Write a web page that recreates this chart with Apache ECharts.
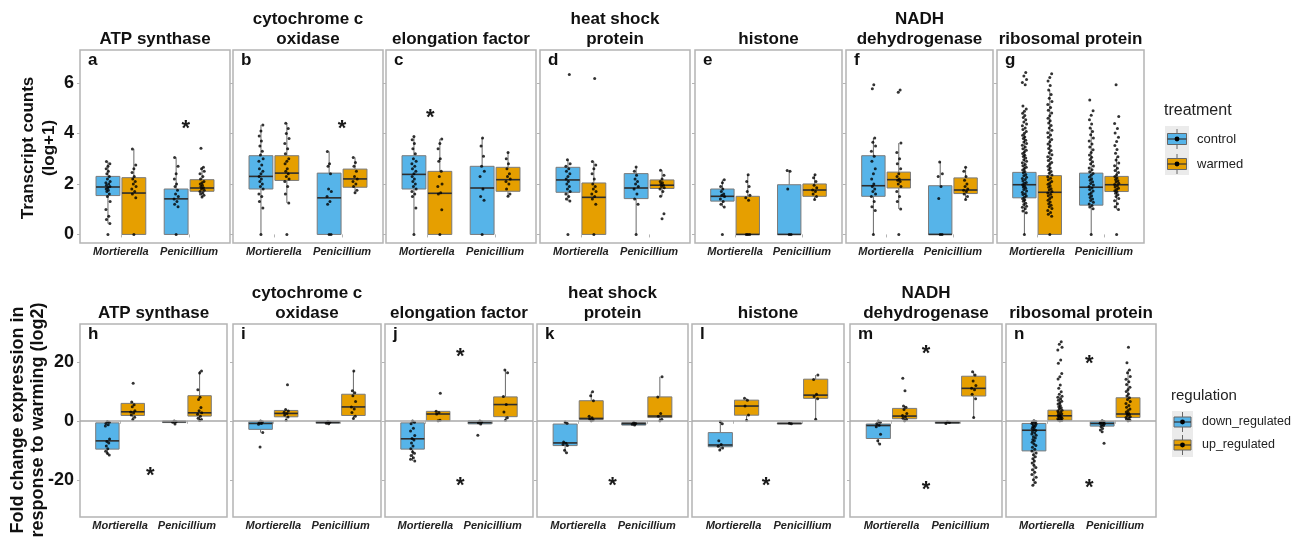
<!DOCTYPE html>
<html><head><meta charset="utf-8">
<script src="https://cdn.jsdelivr.net/npm/echarts@6/dist/echarts.min.js"></script>
<style>html,body{margin:0;padding:0;background:#fff}#c{width:1301px;height:537px}</style>
</head><body><div id="c"></div>
<script>
// ---------- labels ----------
const genera = ['Mortierella', 'Penicillium'];
const treatments = ['control', 'warmed'];
const regulations = ['down_regulated', 'up_regulated'];
const geneTitles = ['ATP synthase', 'cytochrome c\noxidase', 'elongation factor', 'heat shock\nprotein', 'histone', 'NADH\ndehydrogenase', 'ribosomal protein'];
const topLetters = ['a', 'b', 'c', 'd', 'e', 'f', 'g'];
const bottomLetters = ['h', 'i', 'j', 'k', 'l', 'm', 'n'];
const topTicks = [0, 2, 4, 6];
const bottomTicks = [-20, 0, 20];
const topRange = [-0.34, 7.31];
const bottomRange = [-32.6, 32.8];

// ---------- box stats [lower whisker, Q1, median, Q3, upper whisker]
// order: Mortierella-control/down, Mortierella-warmed/up, Penicillium-control/down, Penicillium-warmed/up
const boxA = [[0.43, 1.54, 1.88, 2.30, 2.89], [0, 0, 1.64, 2.25, 3.39], [0, 0, 1.41, 1.80, 3.05], [1.48, 1.71, 1.84, 2.17, 2.66]];
const boxB = [[0, 1.80, 2.30, 3.12, 4.34], [1.25, 2.14, 2.43, 3.12, 4.41], [0, 0, 1.45, 2.43, 3.29], [1.65, 1.87, 2.20, 2.59, 3.05]];
const boxC = [[0, 1.80, 2.38, 3.12, 3.88], [0, 0, 1.63, 2.50, 3.78], [0, 0, 1.84, 2.70, 3.82], [1.51, 1.71, 2.17, 2.66, 3.25]];
const boxD = [[1.32, 1.67, 2.16, 2.66, 2.96], [0, 0, 1.47, 2.04, 2.89], [0, 1.42, 1.84, 2.41, 2.67], [1.51, 1.82, 1.95, 2.16, 2.54]];
const boxE = [[1.09, 1.32, 1.51, 1.80, 2.17], [0, 0, 0, 1.51, 2.37], [0, 0, 0, 1.97, 2.53], [1.38, 1.51, 1.76, 2.00, 2.37]];
const boxF = [[0, 1.51, 1.93, 3.12, 3.82], [1.01, 1.84, 2.17, 2.47, 3.62], [0, 0, 0, 1.93, 2.87], [1.38, 1.62, 1.76, 2.24, 2.66]];
const boxG = [[0, 1.45, 1.97, 2.46, 3.98], [0, 0, 1.67, 2.33, 5.72], [0, 1.16, 1.87, 2.43, 4.22], [0.99, 1.70, 1.97, 2.30, 3.08]];

const boxH = [[-11.6, -9.6, -6.8, -0.7, -0.2], [0.45, 1.8, 3.05, 5.9, 6.4], [-1.1, -0.6, -0.3, -0.1, -0.1], [0.1, 1.6, 2.7, 8.5, 16.9]];
const boxI = [[-4.0, -2.9, -0.9, -0.3, -0.1], [0.2, 1.35, 2.5, 3.5, 3.8], [-1.0, -0.85, -0.5, -0.15, -0.1], [0.8, 1.8, 4.7, 9.0, 16.9]];
const boxJ = [[-13.6, -9.6, -6.1, -0.7, -0.1], [0, 0, 2.3, 3.2, 3.2], [-1.1, -1.05, -0.6, -0.05, -0.05], [0.2, 1.4, 5.5, 8.1, 17.2]];
const boxK = [[-10.8, -8.4, -7.5, -1.1, -0.4], [0, 0.45, 0.8, 6.8, 9.8], [-1.5, -1.45, -1.0, -0.6, -0.6], [0, 1.1, 1.6, 8.1, 14.9]];
const boxL = [[-9.9, -8.8, -8.2, -4.0, -0.3], [0.2, 1.9, 5.0, 7.0, 7.6], [-1.1, -1.05, -0.9, -0.75, -0.7], [0.5, 7.6, 8.7, 14.1, 15.5]];
const boxM = [[-7.9, -6.0, -1.6, -1.1, -0.1], [0, 0.7, 1.6, 4.2, 5.0], [-0.9, -0.85, -0.6, -0.35, -0.3], [1.1, 8.4, 11.0, 15.1, 16.6]];
const boxN = [[-21.8, -10.2, -3.2, -0.9, 0], [0, 0.2, 1.7, 3.6, 8.3], [-2.0, -1.8, -0.9, -0.3, 0], [0, 1.1, 2.3, 7.8, 17.2]];

// ---------- individual observations (same order)
const ptsA = [
  [0, 0.43, 0.59, 0.72, 0.99, 1.3, 1.5, 1.6, 1.7, 1.75, 1.8, 1.85, 1.9, 1.95, 2.0, 2.05, 2.1, 2.2, 2.3, 2.4, 2.5, 2.6, 2.7, 2.8, 2.89],
  [0, 1.45, 1.6, 1.7, 1.8, 1.9, 2.0, 2.1, 2.2, 2.3, 2.45, 2.6, 2.75, 3.39],
  [0, 1.1, 1.2, 1.3, 1.4, 1.5, 1.6, 1.75, 1.9, 2.0, 2.2, 2.4, 2.7, 3.05],
  [1.48, 1.55, 1.6, 1.65, 1.7, 1.75, 1.8, 1.85, 1.9, 1.95, 2.0, 2.05, 2.1, 2.2, 2.3, 2.4, 2.5, 2.6, 2.66, 3.42]];
const ptsB = [
  [0, 1.05, 1.3, 1.5, 1.6, 1.8, 1.9, 2.0, 2.1, 2.2, 2.3, 2.4, 2.5, 2.6, 2.75, 2.9, 3.0, 3.15, 3.3, 3.5, 3.7, 3.9, 4.1, 4.34],
  [0, 1.25, 1.6, 1.9, 2.1, 2.2, 2.3, 2.4, 2.5, 2.6, 2.8, 2.9, 3.0, 3.2, 3.4, 3.6, 3.8, 4.0, 4.2, 4.41],
  [0, 0, 1.2, 1.3, 1.5, 1.7, 1.8, 2.4, 2.7, 2.8, 3.29],
  [1.65, 1.75, 1.9, 2.0, 2.1, 2.2, 2.3, 2.5, 2.7, 2.85, 3.05]];
const ptsC = [
  [0, 1.05, 1.5, 1.6, 1.7, 1.8, 1.9, 2.0, 2.1, 2.2, 2.3, 2.4, 2.5, 2.6, 2.7, 2.8, 2.9, 3.0, 3.2, 3.4, 3.6, 3.75, 3.88],
  [0, 0.98, 1.6, 1.65, 1.9, 2.0, 2.3, 2.5, 2.9, 3.0, 3.4, 3.6, 3.78],
  [0, 1.35, 1.5, 1.8, 2.3, 2.5, 2.7, 3.1, 3.5, 3.82],
  [1.51, 1.6, 1.8, 2.0, 2.1, 2.2, 2.3, 2.4, 2.6, 2.8, 3.0, 3.25]];
const ptsD = [
  [0, 1.32, 1.4, 1.5, 1.6, 1.7, 1.8, 1.9, 2.0, 2.1, 2.2, 2.3, 2.4, 2.5, 2.6, 2.7, 2.8, 2.96, 6.34],
  [0, 1.2, 1.4, 1.5, 1.6, 1.7, 1.8, 1.9, 2.0, 2.2, 2.4, 2.6, 2.75, 2.89, 6.18],
  [0, 1.2, 1.4, 1.6, 1.8, 1.9, 2.0, 2.1, 2.2, 2.35, 2.5, 2.67],
  [0.62, 0.82, 1.51, 1.7, 1.8, 1.85, 1.9, 1.95, 2.0, 2.05, 2.1, 2.2, 2.35, 2.54]];
const ptsE = [
  [0, 1.09, 1.2, 1.3, 1.4, 1.5, 1.55, 1.6, 1.7, 1.8, 1.9, 2.05, 2.17],
  [0, 0, 0, 1.35, 1.45, 1.55, 1.7, 1.9, 2.1, 2.37],
  [0, 0, 1.8, 2.5, 2.53],
  [1.38, 1.5, 1.6, 1.7, 1.76, 1.85, 1.95, 2.1, 2.25, 2.37]];
const ptsF = [
  [0, 0.95, 1.1, 1.3, 1.5, 1.6, 1.7, 1.8, 1.9, 2.0, 2.2, 2.4, 2.6, 2.9, 3.1, 3.3, 3.5, 3.65, 3.82, 5.77, 5.93],
  [0, 1.01, 1.3, 1.5, 1.7, 1.9, 2.0, 2.1, 2.15, 2.2, 2.3, 2.4, 2.6, 2.8, 3.0, 3.25, 3.62, 5.64, 5.72],
  [0, 0, 1.42, 1.9, 2.3, 2.4, 2.87],
  [1.38, 1.5, 1.6, 1.7, 1.75, 1.8, 1.9, 2.0, 2.15, 2.3, 2.5, 2.66]];
const ptsG = [
  [0, 0.86, 0.93, 1.02, 1.08, 1.12, 1.19, 1.24, 1.31, 1.36, 1.41, 1.47, 1.52, 1.58, 1.61, 1.67, 1.72, 1.78, 1.83, 1.88, 1.91, 1.97, 2.03, 2.06, 2.12, 2.18, 2.22, 2.27, 2.33, 2.38, 2.44, 2.49, 2.55, 2.61, 2.66, 2.72, 2.77, 2.84, 2.9, 2.96, 3.03, 3.09, 3.14, 3.21, 3.27, 3.34, 3.4, 3.47, 3.53, 3.6, 3.66, 3.73, 3.8, 3.86, 3.93, 4.01, 4.08, 4.16, 4.22, 4.31, 4.38, 4.46, 4.55, 4.63, 4.71, 4.8, 4.88, 4.97, 5.09, 5.93, 6.02, 6.14, 6.28, 6.42],
  [0, 0.72, 0.8, 0.87, 0.95, 1.03, 1.1, 1.16, 1.22, 1.29, 1.35, 1.42, 1.48, 1.53, 1.59, 1.64, 1.7, 1.76, 1.81, 1.87, 1.93, 1.99, 2.04, 2.1, 2.17, 2.23, 2.29, 2.36, 2.42, 2.49, 2.56, 2.63, 2.7, 2.78, 2.85, 2.93, 3.01, 3.08, 3.16, 3.24, 3.33, 3.41, 3.5, 3.58, 3.67, 3.76, 3.85, 3.94, 4.03, 4.13, 4.22, 4.32, 4.42, 4.51, 4.6, 4.7, 4.81, 4.92, 5.03, 5.15, 5.27, 5.4, 5.55, 5.72, 5.9, 6.08, 6.22, 6.37],
  [0, 1.02, 1.09, 1.15, 1.21, 1.28, 1.34, 1.4, 1.46, 1.53, 1.59, 1.65, 1.72, 1.78, 1.84, 1.9, 1.96, 2.02, 2.09, 2.15, 2.21, 2.28, 2.35, 2.41, 2.48, 2.56, 2.63, 2.71, 2.8, 2.88, 2.97, 3.06, 3.15, 3.25, 3.36, 3.47, 3.58, 3.7, 3.82, 3.95, 4.08, 4.22, 4.38, 4.55, 4.72, 4.9, 5.33],
  [0, 0.99, 1.1, 1.22, 1.33, 1.42, 1.5, 1.57, 1.63, 1.68, 1.73, 1.78, 1.83, 1.88, 1.93, 1.98, 2.03, 2.08, 2.13, 2.18, 2.24, 2.3, 2.37, 2.45, 2.53, 2.62, 2.72, 2.83, 2.95, 3.08, 3.22, 3.37, 3.52, 3.68, 3.85, 4.02, 4.2, 4.4, 4.67, 5.93]];

const ptsH = [
  [-0.2, -0.5, -0.9, -1.3, -1.8, -6.2, -7.0, -7.5, -8.5, -9.5, -10.3, -11.0, -11.6],
  [0.45, 1.2, 2.0, 2.6, 3.0, 3.4, 4.8, 5.4, 6.4, 12.7],
  [-0.1, -0.3, -0.5, -1.1],
  [0.1, 0.4, 0.9, 1.5, 2.2, 2.7, 3.4, 4.5, 7.2, 8.0, 10.5, 16.2, 16.9]];
const ptsI = [
  [-0.1, -0.3, -0.6, -0.9, -1.2, -4.0, -8.9],
  [0.2, 1.3, 2.0, 2.5, 2.9, 3.3, 3.8, 12.2],
  [-0.2, -0.5, -0.8, -1.0],
  [0.8, 1.5, 2.8, 4.0, 4.7, 6.5, 8.5, 9.5, 10.2, 16.9]];
const ptsJ = [
  [-0.1, -0.5, -1.0, -2.5, -3.5, -5.0, -6.0, -6.5, -7.5, -8.5, -9.5, -10.5, -11.0, -11.8, -12.5, -13.0, -13.6],
  [0.0, 0.2, 2.3, 2.8, 3.2, 9.3],
  [-0.1, -0.4, -0.7, -1.1, -4.9],
  [0.2, 1.0, 3.0, 5.5, 8.2, 16.3, 17.2]];
const ptsK = [
  [-0.4, -0.8, -7.2, -7.6, -8.0, -8.4, -10.0, -10.8],
  [0, 0.3, 0.6, 1.0, 1.5, 6.8, 8.5, 9.8],
  [-0.6, -0.9, -1.2, -1.4],
  [0, 0.5, 1.5, 2.5, 8.1, 14.9]];
const ptsL = [
  [-0.3, -1.0, -6.8, -8.0, -8.6, -9.2, -9.9],
  [0.2, 2.0, 5.0, 7.0, 7.6],
  [-0.8, -1.0],
  [0.5, 7.5, 8.2, 9.0, 14.0, 15.5]];
const ptsM = [
  [-0.1, -0.5, -1.0, -1.5, -2.0, -4.6, -6.8, -7.9],
  [0.0, 0.4, 0.9, 1.4, 1.8, 2.5, 3.8, 4.6, 5.0, 10.2, 14.4],
  [-0.3, -0.6, -0.9],
  [1.1, 7.5, 9.0, 10.5, 11.0, 12.0, 13.5, 15.5, 16.6]];
const ptsN = [
  [0, -0.2, -0.4, -0.6, -0.9, -1.1, -1.4, -1.7, -2.0, -2.3, -2.6, -3.0, -3.3, -3.7, -4.1, -4.5, -4.9, -5.4, -5.8, -6.3, -6.8, -7.3, -7.9, -8.4, -9.0, -9.6, -10.2, -10.9, -11.5, -12.2, -12.9, -13.6, -14.3, -15.1, -15.8, -16.6, -17.4, -18.2, -19.1, -20.0, -20.9, -21.8],
  [0, 0.1, 0.3, 0.5, 0.7, 0.9, 1.1, 1.3, 1.5, 1.7, 1.9, 2.1, 2.4, 2.7, 3.0, 3.3, 3.6, 4.0, 4.4, 4.8, 5.2, 5.7, 6.1, 6.6, 7.0, 7.5, 8.0, 8.3, 9.0, 9.8, 11.0, 12.1, 14.2, 14.9, 16.0, 19.5, 20.6, 24.0, 24.9, 25.9, 26.8],
  [0, -0.2, -0.4, -0.6, -0.8, -1.0, -1.3, -1.6, -2.0, -2.6, -3.1, -3.7, -7.6],
  [0, 0.2, 0.5, 0.8, 1.1, 1.4, 1.8, 2.1, 2.3, 2.6, 3.0, 3.5, 4.0, 4.6, 5.2, 5.9, 6.5, 7.2, 7.8, 8.4, 9.1, 9.9, 10.6, 11.4, 12.3, 13.2, 14.1, 15.0, 16.3, 17.2, 19.7, 24.9]];

// significance stars [x position on genus axis (1 = Mortierella, 2 = Penicillium), y value]
const starsTop = [[[1.95, 4.38]], [[2, 4.38]], [[1.05, 4.83]], [], [], [], []];
const starsBottom = [[[1.45, -16.9]], [], [[1.52, 23.4], [1.52, -20.5]], [[1.5, -20.5]], [[1.47, -20.5]], [[1.5, 24.4], [1.5, -21.7]], [[1.62, 21.0], [1.62, -20.9]]];

// ---------- layout / style (not data) ----------
const FONT = '"Liberation Sans", Arial, Helvetica, sans-serif';
const palette = ['#56B4E9', '#E69F00'];
const topX = [[80, 230], [233, 383], [386, 536], [540, 690], [695, 842], [846, 993], [997, 1144]];
const topY = [50, 243];
const botX = [[80, 227], [233, 381], [385, 533], [537, 688], [692, 844], [850, 1002], [1006, 1156]];
const botY = [324, 517];
const DODGE = 0.19, BOXW = 0.35;
const JIT = [0, 0.028, -0.022, 0.012, -0.03, 0.032, -0.008, 0.02, -0.016, 0.006, -0.026];

function renderBox(params, api) {
  const x = api.value(0);
  const lo = api.coord([x, api.value(1)]);
  const q1 = api.coord([x, api.value(2)]);
  const md = api.coord([x, api.value(3)]);
  const q3 = api.coord([x, api.value(4)]);
  const hi = api.coord([x, api.value(5)]);
  const w = api.size([BOXW, 0])[0];
  const cx = q1[0];
  const col = palette[api.value(6)];
  return {type: 'group', children: [
    {type: 'line', shape: {x1: cx, y1: hi[1], x2: cx, y2: q3[1]}, style: {stroke: '#6a6a6a', lineWidth: 1}},
    {type: 'line', shape: {x1: cx, y1: q1[1], x2: cx, y2: lo[1]}, style: {stroke: '#6a6a6a', lineWidth: 1}},
    {type: 'rect', shape: {x: cx - w / 2, y: q3[1], width: w, height: Math.max(q1[1] - q3[1], 0.8)}, style: {fill: col, stroke: '#7a7a7a', lineWidth: 1}},
    {type: 'line', shape: {x1: cx - w / 2, y1: md[1], x2: cx + w / 2, y2: md[1]}, style: {stroke: '#2e2e2e', lineWidth: 1.6}}
  ]};
}
function renderStar(params, api) {
  const p = api.coord([api.value(0), api.value(1)]);
  return {type: 'text', x: p[0], y: p[1] + 5, style: {text: '*', font: 'bold 22px ' + FONT, fill: '#1a1a1a', align: 'center', verticalAlign: 'middle'}};
}

const grids = [], xAxes = [], yAxes = [], series = [], graphics = [];
function addPanel(xr, yr, range, ticks, showLabels, boxes, pts, stars, zeroLine, letter, title) {
  const idx = grids.length;
  grids.push({left: xr[0], top: yr[0], width: xr[1] - xr[0], height: yr[1] - yr[0], show: true, borderColor: '#b4b4b4', borderWidth: 1.5, backgroundColor: '#ffffff'});
  xAxes.push({gridIndex: idx, type: 'value', min: 0.4, max: 2.6, axisLine: {show: false}, splitLine: {show: false},
    axisTick: {show: true, customValues: [1, 2], length: 3, lineStyle: {color: '#b4b4b4'}},
    axisLabel: {show: true, customValues: [1, 2], formatter: v => genera[Math.round(v) - 1], margin: 3,
      fontFamily: FONT, fontSize: 11, fontWeight: 'bold', fontStyle: 'italic', color: '#222'}});
  yAxes.push({gridIndex: idx, type: 'value', min: range[0], max: range[1], axisLine: {show: false}, splitLine: {show: false},
    axisTick: {show: true, customValues: ticks, length: 3, lineStyle: {color: '#b4b4b4'}},
    axisLabel: {show: showLabels, customValues: ticks, margin: 6, fontFamily: FONT, fontSize: 18, fontWeight: 'bold', color: '#111'}});
  const boxData = boxes.map((b, k) => [Math.floor(k / 2) + 1 + (k % 2 ? DODGE : -DODGE)].concat(b, [k % 2]));
  series.push({type: 'custom', xAxisIndex: idx, yAxisIndex: idx, renderItem: renderBox, data: boxData,
    encode: {x: 0, y: [1, 2, 3, 4, 5]}, z: 2, silent: true});
  const ptData = [];
  pts.forEach((list, k) => {
    const base = Math.floor(k / 2) + 1 + (k % 2 ? DODGE : -DODGE);
    list.forEach((v, j) => ptData.push([base + JIT[j % JIT.length], v]));
  });
  const sc = {type: 'scatter', xAxisIndex: idx, yAxisIndex: idx, data: ptData, symbol: 'circle', symbolSize: 3,
    itemStyle: {color: '#000'}, z: 3, silent: true};
  if (zeroLine) sc.markLine = {silent: true, symbol: 'none', label: {show: false}, animation: false,
    lineStyle: {color: '#a8a8a8', width: 1.6, type: 'solid'}, data: [{yAxis: 0}]};
  series.push(sc);
  if (stars.length) series.push({type: 'custom', xAxisIndex: idx, yAxisIndex: idx, renderItem: renderStar, data: stars, encode: {x: 0, y: 1}, z: 4, silent: true});
  graphics.push({type: 'text', x: xr[0] + 8, y: yr[0] + 10.5, z: 10, style: {text: letter, font: 'bold 17px ' + FONT, fill: '#111', align: 'left', verticalAlign: 'middle'}});
  graphics.push({type: 'text', x: (xr[0] + xr[1]) / 2, y: yr[0] - 1, z: 10, style: {text: title, font: 'bold 17px ' + FONT, lineHeight: 20, fill: '#111', align: 'center', verticalAlign: 'bottom'}});
}

const topBoxes = [boxA, boxB, boxC, boxD, boxE, boxF, boxG];
const topPts = [ptsA, ptsB, ptsC, ptsD, ptsE, ptsF, ptsG];
const botBoxes = [boxH, boxI, boxJ, boxK, boxL, boxM, boxN];
const botPts = [ptsH, ptsI, ptsJ, ptsK, ptsL, ptsM, ptsN];
for (let i = 0; i < 7; i++) {
  addPanel(topX[i], [topY[0] + 0, topY[1]], topRange, topTicks, i === 0, topBoxes[i], topPts[i], starsTop[i], false, topLetters[i], geneTitles[i]);
}
for (let i = 0; i < 7; i++) {
  addPanel(botX[i], botY, bottomRange, bottomTicks, i === 0, botBoxes[i], botPts[i], starsBottom[i], true, bottomLetters[i], geneTitles[i]);
}

// y-axis titles
graphics.push({type: 'text', x: 38.5, y: 148, rotation: Math.PI / 2, style: {text: 'Transcript counts\n(log+1)', font: 'bold 17px ' + FONT, lineHeight: 21, fill: '#111', align: 'center', verticalAlign: 'middle'}});
graphics.push({type: 'text', x: 28.5, y: 420, rotation: Math.PI / 2, style: {text: 'Fold change expression in\nresponse to warming (log2)', font: 'bold 18px ' + FONT, lineHeight: 20, fill: '#111', align: 'center', verticalAlign: 'middle'}});

// legends
function addLegend(title, names, tx, ty, bg, keyCx, keyW, keyH, cys, labelX, labelSize, titleSize) {
  graphics.push({type: 'text', x: tx, y: ty, style: {text: title, font: titleSize + 'px ' + FONT, fill: '#222', align: 'left', verticalAlign: 'middle'}});
  graphics.push({type: 'rect', shape: {x: bg[0], y: bg[1], width: bg[2], height: bg[3]}, style: {fill: '#ebebeb'}});
  names.forEach((nm, i) => {
    const cy = cys[i];
    graphics.push({type: 'line', shape: {x1: keyCx, y1: cy - 10, x2: keyCx, y2: cy + 10}, style: {stroke: '#666', lineWidth: 1}});
    graphics.push({type: 'rect', shape: {x: keyCx - keyW / 2, y: cy - keyH / 2, width: keyW, height: keyH}, style: {fill: palette[i], stroke: '#666', lineWidth: 1}});
    graphics.push({type: 'line', shape: {x1: keyCx - keyW / 2, y1: cy, x2: keyCx + keyW / 2, y2: cy}, style: {stroke: '#333', lineWidth: 1.2}});
    graphics.push({type: 'circle', shape: {cx: keyCx, cy: cy, r: 2.4}, style: {fill: '#000'}});
    graphics.push({type: 'text', x: labelX, y: cy, style: {text: nm, font: labelSize + 'px ' + FONT, fill: '#222', align: 'left', verticalAlign: 'middle'}});
  });
}
addLegend('treatment', treatments, 1164, 111, [1165, 126, 24, 49], 1177, 19, 11, [139, 164], 1197, 13, 16);
addLegend('regulation', regulations, 1171, 396, [1172, 411, 21, 46], 1182.5, 17, 10, [422, 445], 1202, 12.5, 15);

const chart = echarts.init(document.getElementById('c'), null, {renderer: 'canvas'});
chart.setOption({
  animation: false,
  backgroundColor: '#ffffff',
  grid: grids, xAxis: xAxes, yAxis: yAxes, series: series,
  graphic: {elements: graphics}
});
</script></body></html>
